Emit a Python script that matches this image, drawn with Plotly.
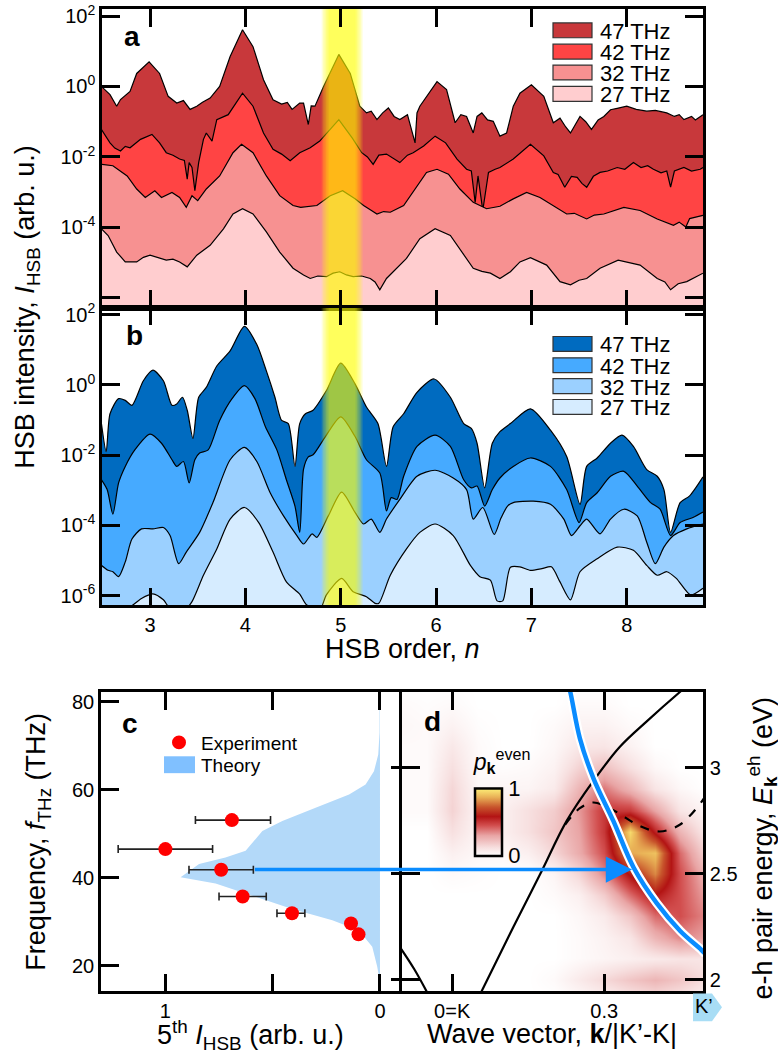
import plotly.graph_objects as go

W, H = 778, 1057
def px(x): return x / W
def py(y): return 1 - y / H

FONT = "Liberation Sans, Arial, sans-serif"

# ---------------- data ----------------
names = ["47 THz", "42 THz", "32 THz", "27 THz"]
red_colors = ["#C8383B", "#FF4444", "#F79191", "#FFCDCF"]
blue_colors = ["#006BC0", "#46AAFF", "#9BD0FF", "#D6ECFF"]

# panel a (experiment): (HSB order n, log10 intensity)
a47 = [(2.49,0.0),(2.58,-0.23),(2.65,-0.56),(2.69,-0.37),(2.79,-0.14),(2.86,0.37),(2.99,0.70),(3.10,0.37),
       (3.19,-0.28),(3.28,-0.47),(3.35,-0.40),(3.42,-0.65),(3.49,-0.56),(3.55,-0.45),(3.63,-0.33),(3.73,0.0),
       (3.84,0.85),(3.97,1.61),(4.08,1.13),(4.19,0.19),(4.29,-0.38),(4.38,-0.50),(4.44,-0.45),(4.49,-0.65),
       (4.57,-0.47),(4.61,-0.47),(4.66,-1.08),(4.69,-0.55),(4.73,-0.56),(4.82,0.0),(4.98,0.91),(5.10,0.37),
       (5.20,-0.56),(5.27,-0.75),(5.32,-0.70),(5.38,-0.94),(5.44,-0.75),(5.50,-0.61),(5.56,-0.85),(5.62,-0.94),
       (5.70,-0.80),(5.78,-1.60),(5.80,-0.75),(5.83,-0.56),(6.01,0.14),(6.11,-0.09),(6.20,-1.03),(6.26,-0.80),
       (6.32,-0.85),(6.39,-1.32),(6.43,-0.85),(6.48,-0.75),(6.54,-0.95),(6.60,-0.99),(6.67,-1.41),(6.74,-1.32),
       (6.81,-0.56),(6.88,-0.19),(7.00,0.05),(7.13,-0.28),(7.23,-1.03),(7.30,-0.90),(7.36,-1.15),(7.41,-1.32),
       (7.51,-0.85),(7.57,-1.00),(7.63,-1.22),(7.70,-0.95),(7.76,-0.85),(7.83,-0.66),(7.90,-0.62),(8.00,-0.56),
       (8.10,-0.65),(8.21,-0.70),(8.30,-0.68),(8.42,-0.75),(8.50,-0.85),(8.55,-0.80),(8.60,-0.94),(8.68,-0.85),
       (8.72,-0.95),(8.77,-0.85),(8.80,-0.80)]
a42 = [(2.49,-1.22),(2.58,-1.60),(2.63,-1.75),(2.69,-1.83),(2.74,-1.70),(2.79,-1.74),(2.90,-1.50),(3.02,-1.36),
       (3.10,-1.60),(3.17,-1.88),(3.24,-1.95),(3.31,-2.06),(3.36,-2.10),(3.39,-2.63),(3.41,-2.16),(3.44,-2.30),
       (3.47,-2.96),(3.51,-2.16),(3.56,-1.50),(3.59,-1.32),(3.65,-1.55),(3.70,-0.94),(3.82,-0.80),(3.97,-0.19),
       (4.08,-0.56),(4.19,-1.32),(4.29,-1.78),(4.38,-1.92),(4.47,-2.11),(4.57,-1.88),(4.68,-1.74),(4.78,-1.55),
       (4.98,-0.94),(5.12,-1.46),(5.22,-1.88),(5.28,-2.00),(5.34,-2.21),(5.40,-1.95),(5.48,-1.92),(5.55,-2.05),
       (5.62,-2.16),(5.70,-1.95),(5.76,-1.88),(5.87,-1.69),(5.99,-1.41),(6.10,-1.60),(6.22,-2.06),(6.32,-2.35),
       (6.37,-2.40),(6.41,-3.29),(6.44,-2.54),(6.49,-3.52),(6.55,-2.44),(6.62,-2.35),(6.67,-2.30),(6.81,-2.06),
       (6.99,-1.64),(7.13,-1.97),(7.23,-2.44),(7.28,-2.50),(7.35,-2.86),(7.42,-2.55),(7.48,-2.58),(7.53,-2.75),
       (7.58,-2.86),(7.65,-2.55),(7.72,-2.44),(7.80,-2.40),(7.90,-2.30),(7.98,-2.35),(8.07,-2.16),(8.15,-2.30),
       (8.22,-2.25),(8.28,-2.35),(8.36,-2.45),(8.42,-2.40),(8.46,-2.86),(8.50,-2.40),(8.60,-2.30),(8.68,-2.40),
       (8.77,-2.35),(8.80,-2.30)]
a32 = [(2.49,-2.21),(2.61,-2.25),(2.76,-2.54),(2.86,-2.91),(2.95,-3.15),(3.05,-2.96),(3.12,-3.15),(3.23,-3.01),
       (3.31,-3.15),(3.38,-3.43),(3.44,-3.10),(3.50,-3.24),(3.59,-2.91),(3.73,-2.54),(3.87,-1.88),(3.96,-1.64),
       (4.08,-1.88),(4.22,-2.54),(4.36,-3.10),(4.50,-3.38),(4.58,-3.43),(4.75,-3.38),(4.89,-3.10),(5.02,-2.96),
       (5.15,-3.19),(5.24,-3.38),(5.31,-3.50),(5.38,-3.62),(5.45,-3.55),(5.52,-3.57),(5.66,-3.38),(5.80,-2.82),
       (5.90,-2.44),(6.01,-2.35),(6.13,-2.49),(6.25,-2.91),(6.39,-3.29),(6.53,-3.47),(6.67,-3.40),(6.81,-3.19),
       (6.95,-3.01),(7.09,-3.15),(7.23,-3.38),(7.30,-3.50),(7.37,-3.62),(7.45,-3.60),(7.58,-3.76),(7.66,-3.65),
       (7.76,-3.62),(7.97,-3.43),(8.14,-3.52),(8.32,-3.76),(8.40,-3.85),(8.49,-3.94),(8.55,-3.85),(8.62,-3.99),
       (8.66,-3.75),(8.71,-3.71),(8.80,-3.66)]
a27 = [(2.49,-4.04),(2.56,-4.23),(2.65,-4.70),(2.74,-4.98),(2.86,-4.98),(2.93,-4.85),(3.00,-4.79),(3.08,-4.85),
       (3.17,-4.93),(3.24,-4.90),(3.31,-4.98),(3.39,-5.12),(3.49,-4.79),(3.63,-4.51),(3.77,-4.04),(3.87,-3.62),
       (3.97,-3.47),(4.08,-3.62),(4.22,-4.13),(4.36,-4.70),(4.50,-5.16),(4.61,-5.35),(4.68,-5.45),(4.76,-5.38),
       (4.85,-5.40),(4.92,-5.30),(4.99,-5.26),(5.06,-5.35),(5.13,-5.40),(5.22,-5.38),(5.31,-5.45),(5.36,-5.55),
       (5.41,-5.77),(5.48,-5.45),(5.59,-5.16),(5.69,-4.88),(5.83,-4.32),(5.99,-4.04),(6.15,-4.23),(6.29,-4.79),
       (6.39,-5.16),(6.48,-5.25),(6.57,-5.30),(6.67,-5.45),(6.78,-5.26),(6.88,-4.98),(6.99,-4.86),(7.16,-5.07),
       (7.30,-5.54),(7.41,-5.63),(7.50,-5.50),(7.58,-5.45),(7.72,-5.16),(7.91,-4.93),(8.14,-5.07),(8.32,-5.45),
       (8.40,-5.55),(8.46,-5.77),(8.54,-5.60),(8.63,-5.54),(8.72,-5.40),(8.80,-5.30)]

# panel b (theory): (n, log10 intensity)
b47 = [(2.49,-1.10),(2.54,-1.90),(2.58,-0.82),(2.67,-0.39),(2.74,-0.44),(2.81,-0.58),(2.93,0.12),(3.03,0.42),
       (3.14,0.12),(3.23,-0.58),(3.28,-0.54),(3.34,-0.35),(3.39,-0.72),(3.45,-1.52),(3.51,-0.35),(3.59,-0.07),
       (3.70,0.54),(3.84,0.97),(3.99,1.67),(4.12,1.15),(4.22,0.40),(4.31,-0.35),(4.38,-1.01),(4.45,-1.10),
       (4.52,-2.32),(4.57,-1.10),(4.63,-0.82),(4.71,-0.72),(4.85,-0.16),(5.00,0.62),(5.15,0.03),(5.27,-0.63),
       (5.39,-1.10),(5.48,-2.32),(5.55,-1.19),(5.66,-0.82),(5.80,-0.21),(5.98,0.17),(6.15,-0.35),(6.29,-1.10),
       (6.37,-1.24),(6.43,-1.66),(6.51,-2.93),(6.59,-1.66),(6.67,-1.33),(6.78,-1.10),(6.99,-0.68),(7.20,-1.29),
       (7.37,-2.04),(7.51,-3.40),(7.58,-2.32),(7.69,-2.08),(7.83,-1.66),(7.95,-1.43),(8.07,-1.75),(8.21,-2.41),
       (8.32,-2.60),(8.39,-2.98),(8.46,-4.20),(8.56,-3.35),(8.66,-3.16),(8.80,-2.62)]
b42 = [(2.49,-2.70),(2.55,-2.98),(2.61,-3.68),(2.67,-2.79),(2.74,-2.32),(2.84,-1.85),(3.00,-1.40),(3.12,-1.66),
       (3.23,-2.13),(3.28,-2.32),(3.35,-2.18),(3.41,-2.79),(3.47,-2.13),(3.52,-1.94),(3.61,-1.85),(3.73,-1.01),
       (3.86,-0.39),(3.99,-0.02),(4.10,-0.39),(4.21,-1.19),(4.33,-1.85),(4.43,-2.70),(4.52,-3.45),(4.57,-4.20),
       (4.61,-2.40),(4.66,-2.05),(4.71,-1.99),(4.84,-1.47),(5.00,-0.91),(5.15,-1.47),(5.27,-2.13),(5.41,-2.51),
       (5.48,-3.59),(5.53,-3.21),(5.59,-3.26),(5.66,-2.60),(5.80,-1.75),(5.99,-1.43),(6.15,-1.75),(6.29,-2.70),
       (6.37,-2.93),(6.43,-2.88),(6.51,-3.45),(6.59,-2.98),(6.67,-2.65),(6.81,-2.32),(6.99,-2.08),(7.20,-2.32),
       (7.37,-2.98),(7.50,-3.92),(7.58,-3.35),(7.69,-3.07),(7.83,-2.60),(7.97,-2.46),(8.11,-2.88),(8.25,-3.35),
       (8.35,-3.54),(8.46,-4.29),(8.56,-3.92),(8.70,-3.77),(8.80,-3.62)]
b32 = [(2.49,-5.14),(2.56,-5.28),(2.61,-5.32),(2.67,-5.46),(2.74,-5.04),(2.81,-4.39),(2.91,-4.10),(3.03,-4.10),
       (3.14,-4.06),(3.21,-4.29),(3.30,-5.09),(3.38,-4.76),(3.52,-4.20),(3.66,-3.35),(3.84,-2.13),(3.99,-1.78),
       (4.12,-2.18),(4.26,-3.07),(4.40,-3.73),(4.54,-4.29),(4.61,-4.53),(4.70,-4.24),(4.75,-4.34),(4.87,-3.73),
       (5.01,-3.05),(5.15,-3.63),(5.24,-3.96),(5.32,-3.82),(5.41,-4.20),(5.48,-3.82),(5.62,-3.26),(5.80,-2.60),
       (5.99,-2.43),(6.18,-2.65),(6.32,-2.98),(6.39,-3.82),(6.49,-3.49),(6.61,-4.26),(6.68,-3.80),(6.75,-3.45),
       (6.81,-3.35),(7.02,-3.31),(7.20,-3.40),(7.34,-3.82),(7.42,-4.29),(7.51,-4.01),(7.58,-3.82),(7.72,-4.24),
       (7.83,-3.82),(7.97,-3.54),(8.11,-3.73),(8.21,-4.48),(8.30,-5.09),(8.39,-4.62),(8.49,-4.29),(8.63,-4.10),
       (8.80,-3.96)]
b27 = [(2.49,-6.60),(2.77,-6.36),(2.91,-6.08),(3.03,-5.95),(3.14,-6.12),(3.21,-6.36),(3.38,-6.36),(3.44,-6.17),
       (3.56,-5.42),(3.70,-4.67),(3.84,-3.82),(3.99,-3.49),(4.14,-3.92),(4.29,-4.76),(4.43,-5.61),(4.57,-5.96),
       (4.64,-6.26),(4.78,-6.40),(4.85,-5.98),(5.01,-5.51),(5.13,-5.89),(5.27,-6.03),(5.36,-6.22),(5.40,-6.22),
       (5.52,-5.42),(5.69,-4.67),(5.83,-4.20),(5.99,-3.96),(6.18,-4.29),(6.36,-5.14),(6.46,-5.46),(6.57,-5.56),
       (6.64,-6.15),(6.70,-6.15),(6.78,-5.19),(6.88,-5.18),(6.99,-5.28),(7.11,-5.23),(7.21,-5.18),(7.30,-5.61),
       (7.41,-6.12),(7.51,-5.32),(7.69,-4.95),(7.90,-4.62),(8.07,-4.71),(8.21,-5.14),(8.32,-5.42),(8.42,-5.32),
       (8.52,-5.51),(8.67,-5.98),(8.80,-5.79)]

n_ticks = [3, 4, 5, 6, 7, 8]
# highlight of the 5th order: nested bands, soft edges
band_5th = [(4.80, 5.23), (4.815, 5.215), (4.83, 5.20), (4.845, 5.185), (4.86, 5.17), (4.875, 5.155)]
band_alpha = [0.15, 0.15, 0.15, 0.15, 0.16, 0.16]

# panel c
exp_freq = [53.1, 46.5, 41.8, 35.7, 31.9, 29.6, 27.1]
exp_int = [0.69, 1.00, 0.74, 0.64, 0.41, 0.135, 0.10]
exp_err_hi = [0.17, 0.22, 0.15, 0.11, 0.07, 0.015, 0.016]
exp_err_lo = [0.18, 0.22, 0.15, 0.11, 0.06, 0.015, 0.016]
theo_int = [0.002, 0.002, 0.008, 0.028, 0.067, 0.144, 0.30, 0.455, 0.548, 0.587, 0.626, 0.72, 0.843, 0.929,
            0.766, 0.595, 0.409, 0.222, 0.098, 0.036, 0.013, 0.002, 0.002]
theo_freq = [82.5, 73, 68, 64.2, 61.2, 58.9, 55.9, 52.9, 50.6, 48.4, 46.1, 44.6, 43.1, 40.1,
             38.7, 35.9, 32.9, 30.3, 28.0, 24.3, 19.8, 16.8, 14.0]
arrow_start_int = 0.59      # start of arrow (intensity) in panel c
arrow_tip = (0.355, 2.52)   # (k, E) in panel d

# panel d
k_grid = [-0.1, -0.05, 0, 0.05, 0.1, 0.15, 0.2, 0.25, 0.3, 0.35, 0.4, 0.45, 0.5]
E_grid = [1.9, 2.0, 2.1, 2.2, 2.3, 2.4, 2.5, 2.6, 2.7, 2.8, 2.9, 3.0, 3.1, 3.2, 3.3, 3.4]
p_even = [
    [0,0,0,0,0,0,0,0.02,0.05,0.08,0.1,0.08,0.05],
    [0,0,0,0,0,0,0.02,0.08,0.14,0.2,0.25,0.2,0.12],
    [0,0,0,0,0,0,0,0.02,0.04,0.06,0.08,0.1,0.1],
    [0,0,0,0,0,0,0,0.02,0.05,0.1,0.25,0.35,0.3],
    [0,0,0,0,0,0,0,0.03,0.08,0.2,0.4,0.45,0.35],
    [0,0,0,0,0,0,0.02,0.06,0.18,0.4,0.58,0.45,0.3],
    [0,0,0.02,0.01,0,0,0.04,0.15,0.35,0.6,0.8,0.45,0.25],
    [0,0,0.06,0.03,0.03,0.06,0.15,0.28,0.45,0.85,0.9,0.4,0.15],
    [0,0,0.12,0.04,0.06,0.12,0.2,0.3,0.5,0.95,0.55,0.25,0.08],
    [0.02,0.02,0.16,0.04,0.06,0.12,0.18,0.32,0.5,0.5,0.3,0.1,0.04],
    [0.02,0.02,0.15,0.03,0.04,0.04,0.08,0.25,0.38,0.25,0.1,0.03,0],
    [0.02,0.02,0.12,0.02,0.01,0.02,0.05,0.16,0.22,0.12,0.03,0,0],
    [0.02,0.02,0.09,0.02,0,0,0.03,0.09,0.1,0.05,0,0,0],
    [0.03,0.02,0.05,0.01,0,0,0.02,0.05,0.05,0.02,0,0,0],
    [0.02,0.01,0.02,0,0,0,0,0.02,0.02,0,0,0,0],
    [0,0,0,0,0,0,0,0,0,0,0,0,0],
]
band_left_k = [-0.105, -0.075, -0.045]
band_left_E = [2.16, 2.05, 1.92]
band_right_k = [0.055, 0.121, 0.174, 0.226, 0.279, 0.331, 0.384, 0.45, 0.47]
band_right_E = [1.93, 2.25, 2.50, 2.75, 2.94, 3.10, 3.22, 3.36, 3.40]
dash_k = [0.223, 0.252, 0.279, 0.318, 0.371, 0.41, 0.45, 0.492, 0.50]
dash_E = [2.733, 2.81, 2.837, 2.80, 2.725, 2.70, 2.733, 2.84, 2.87]
res_k = [0.228, 0.233, 0.252, 0.279, 0.318, 0.358, 0.404, 0.45, 0.492, 0.50]
res_E = [3.40, 3.36, 3.14, 2.95, 2.75, 2.53, 2.36, 2.23, 2.14, 2.12]

BASE = 1e-9
fig = go.Figure()

def add_stack(series, colors, xa, ya, shape):
    for pts, col, name in zip(series, colors, names):
        n = [p[0] for p in pts]
        v = [10 ** p[1] for p in pts]
        fig.add_trace(go.Scatter(x=[n[0], n[-1]], y=[BASE, BASE], mode="lines", line=dict(width=0),
                                 showlegend=False, hoverinfo="skip", xaxis=xa, yaxis=ya))
        fig.add_trace(go.Scatter(x=n, y=v, mode="lines", fill="tonexty", fillcolor=col,
                                 line=dict(color="black", width=1.2, shape=shape, smoothing=0.7),
                                 name=name, showlegend=False, xaxis=xa, yaxis=ya))

def add_band(xa, ya):
    for (lo, hi), al in zip(band_5th, band_alpha):
        fig.add_trace(go.Scatter(x=[lo, hi, hi, lo, lo], y=[BASE, BASE, 1e9, 1e9, BASE], mode="lines",
                                 fill="toself", fillcolor=f"rgba(255,255,0,{al})", line=dict(width=0),
                                 showlegend=False, hoverinfo="skip", xaxis=xa, yaxis=ya))

add_stack([a47, a42, a32, a27], red_colors, "x", "y", "linear")
add_band("x", "y")
add_stack([b47, b42, b32, b27], blue_colors, "x2", "y2", "spline")
add_band("x2", "y2")

# panel c
fig.add_trace(go.Scatter(x=theo_int, y=theo_freq, mode="lines", fill="tozerox", fillcolor="#B3D9F9",
                         line=dict(width=0), name="Theory", showlegend=False, hoverinfo="skip",
                         xaxis="x3", yaxis="y3"))
fig.add_trace(go.Scatter(x=exp_int, y=exp_freq, mode="markers", name="Experiment", showlegend=False,
                         marker=dict(color="#FF0000", size=14),
                         error_x=dict(type="data", symmetric=False, array=exp_err_hi, arrayminus=exp_err_lo,
                                      color="#222222", thickness=1.6, width=4),
                         xaxis="x3", yaxis="y3"))

# panel d
fig.add_trace(go.Heatmap(x=k_grid, y=E_grid, z=p_even, zmin=0, zmax=1, zsmooth="best",
                         colorscale=[[0, "#FFFFFF"], [0.12, "#F7E0E0"], [0.3, "#E9A5A5"], [0.45, "#D24E4E"],
                                     [0.58, "#B31414"], [0.72, "#C8552C"], [0.86, "#E8AE55"], [1, "#FFF47A"]],
                         xaxis="x4", yaxis="y4", showscale=True,
                         colorbar=dict(x=px(475), xanchor="left", y=py(855), yanchor="bottom",
                                       len=(855 - 749) / H, lenmode="fraction", thickness=27,
                                       thicknessmode="pixels", outlinewidth=2.5, outlinecolor="black",
                                       xpad=0, ypad=0, tickvals=[0, 1], ticktext=["0", "1"], ticks="",
                                       tickfont=dict(size=22, family=FONT, color="black"),
                                       title=dict(text="<i>p</i><sub><b>k</b></sub><sup>even</sup>", side="top",
                                                  font=dict(size=23, family=FONT, color="black")))))
fig.add_trace(go.Scatter(x=band_left_k, y=band_left_E, mode="lines", line=dict(color="black", width=2.2, shape="spline"),
                         showlegend=False, xaxis="x4", yaxis="y4"))
fig.add_trace(go.Scatter(x=band_right_k, y=band_right_E, mode="lines", line=dict(color="black", width=2.2, shape="spline"),
                         showlegend=False, xaxis="x4", yaxis="y4"))
fig.add_trace(go.Scatter(x=dash_k, y=dash_E, mode="lines", line=dict(color="black", width=2.2, dash="dash", shape="spline"),
                         showlegend=False, xaxis="x4", yaxis="y4"))
fig.add_trace(go.Scatter(x=res_k, y=res_E, mode="lines", line=dict(color="white", width=9, shape="spline"),
                         showlegend=False, xaxis="x4", yaxis="y4"))
fig.add_trace(go.Scatter(x=res_k, y=res_E, mode="lines", line=dict(color="#0A8CFF", width=4.5, shape="spline"),
                         showlegend=False, xaxis="x4", yaxis="y4"))
# invisible carrier for the outside ticks on the left side of panel d
fig.add_trace(go.Scatter(x=[0.1], y=[2.5], mode="markers", marker=dict(opacity=0), showlegend=False,
                         hoverinfo="skip", xaxis="x4", yaxis="y5"))

# ---------------- layout ----------------
tickfont = dict(size=20, family=FONT, color="black")
common = dict(showline=True, linewidth=2.5, linecolor="black", ticks="inside", ticklen=18, tickwidth=2.5,
              tickcolor="black", showgrid=False, zeroline=False, tickfont=tickfont)

AB_X = [px(102), px(703)]
xr = [2.496, 8.80]
ylog_vals = [1e2, 1, 1e-2, 1e-4, 1e-6]
ylog_text = ["10<sup>2</sup>", "10<sup>0</sup>", "10<sup>-2</sup>", "10<sup>-4</sup>", "10<sup>-6</sup>"]

C_X = [px(101), px(401)]
D_X = [px(402), px(703)]
CD_Y = [py(992), py(690)]
c_xr = [1.30, -0.098]
d_xr = [-0.099, 0.495]
d_yr = [1.944, 3.36]

fig.update_layout(
    width=W, height=H, margin=dict(l=0, r=0, t=0, b=0), showlegend=False,
    paper_bgcolor="white", plot_bgcolor="rgba(0,0,0,0)",
    font=dict(family=FONT, color="black", size=20),
    xaxis=dict(domain=AB_X, range=xr, anchor="y", tickvals=n_ticks, showticklabels=False, mirror="ticks", **common),
    yaxis=dict(domain=[py(303), py(2)], type="log", range=[-6.28, 2.2], anchor="x",
               tickvals=ylog_vals, ticktext=ylog_text[:4] + [""], mirror="ticks", **common),
    xaxis2=dict(domain=AB_X, range=xr, anchor="y2", tickvals=n_ticks, mirror="ticks", **common),
    yaxis2=dict(domain=[py(603), py(303)], type="log", range=[-6.28, 2.2], anchor="x2",
                tickvals=ylog_vals, ticktext=ylog_text, mirror="ticks", **common),
    xaxis3=dict(domain=C_X, range=c_xr, anchor="y3", tickvals=[1, 0.5, 0], ticktext=["1", "", "0"],
                mirror="ticks", **common),
    yaxis3=dict(domain=CD_Y, range=[14.1, 82.3], anchor="x3", tickvals=[20, 40, 60, 80], mirror=True, **common),
    xaxis4=dict(domain=D_X, range=d_xr, anchor="y4", tickvals=[0, 0.3], ticktext=["0=K", "0.3"],
                mirror="ticks", **common),
    yaxis4=dict(domain=CD_Y, range=d_yr, anchor="x4", side="right", tickvals=[2, 2.5, 3],
                ticktext=["2", "2.5", "3"], mirror="ticks", **common),
    yaxis5=dict(range=d_yr, overlaying="y4", anchor="x4", side="left", tickvals=[2, 2.5, 3], ticks="outside",
                ticklen=10, tickwidth=2.5, tickcolor="black", showticklabels=False, showline=False,
                showgrid=False, zeroline=False),
)

# arrow from panel c into panel d (pixel offset derived from the two axis scales)
c_px0, c_px1 = 101, 401
d_px0, d_px1 = 402, 703
start_px = c_px0 + (c_xr[0] - arrow_start_int) / (c_xr[0] - c_xr[1]) * (c_px1 - c_px0)
tip_px = d_px0 + (arrow_tip[0] - d_xr[0]) / (d_xr[1] - d_xr[0]) * (d_px1 - d_px0)
fig.add_annotation(x=arrow_tip[0], y=arrow_tip[1], xref="x4", yref="y4", ax=start_px - tip_px, ay=0,
                   axref="pixel", ayref="pixel", showarrow=True, arrowhead=2, arrowsize=1.5, arrowwidth=3.5,
                   arrowcolor="#0A8CFF", text="")

def ann(text, x, y, size=27, angle=0, bold=False, xanchor="center"):
    fig.add_annotation(text=f"<b>{text}</b>" if bold else text, x=px(x), y=py(y), xref="paper", yref="paper",
                       showarrow=False, textangle=angle, xanchor=xanchor, yanchor="middle",
                       font=dict(size=size, family=FONT, color="black"))

ann("HSB intensity, <i>I</i><sub>HSB</sub> (arb. u.)", 27, 303, angle=-90)
ann("HSB order, <i>n</i>", 402, 647)
ann("Frequency, <i>f</i><sub>THz</sub> (THz)", 38, 841, angle=-90)
ann("5<sup>th</sup> <i>I</i><sub>HSB</sub> (arb. u.)", 250, 1036)
ann("Wave vector, <b>k</b>/|K’-K|", 552, 1035)
ann("e-h pair energy, <i>E</i><sub><b>k</b></sub><sup>eh</sup> (eV)", 762, 848, angle=-90)
ann("a", 132, 30, size=28, bold=True)
ann("b", 134, 331, size=28, bold=True)
ann("c", 130, 722, size=28, bold=True)
ann("d", 432, 720, size=28, bold=True)

# legends (swatch + text) for panels a and b
def legend_block(colors, rows):
    for col, name, yc in zip(colors, names, rows):
        fig.add_shape(type="rect", xref="paper", yref="paper", x0=px(553), x1=px(592),
                      y0=py(yc + 7.5), y1=py(yc - 7.5), fillcolor=col, line=dict(color="#333333", width=1.2))
        ann(name, 598, yc + 1, size=22, xanchor="left")

legend_block(red_colors, [23.5, 45, 66, 87.5])
legend_block(blue_colors, [339.5, 361, 382, 403])

# legend for panel c
fig.add_shape(type="circle", xref="paper", yref="paper", x0=px(172), x1=px(186), y0=py(748), y1=py(734),
              fillcolor="#FF0000", line=dict(width=0))
ann("Experiment", 199, 742, size=19, xanchor="left")
fig.add_shape(type="rect", xref="paper", yref="paper", x0=px(164), x1=px(195), y0=py(772), y1=py(755),
              fillcolor="#80C0FF", line=dict(width=0))
ann("Theory", 199, 764, size=19, xanchor="left")

# K' marker
pts = [(693, 994), (712, 994), (722, 1008), (712, 1022), (693, 1022)]
path = "M " + " L ".join(f"{px(a):.5f},{py(b):.5f}" for a, b in pts) + " Z"
fig.add_shape(type="path", path=path, xref="paper", yref="paper", fillcolor="#A8DDF5", line=dict(width=0))
ann("K’", 704, 1007, size=20)

fig.write_html("out.html")
